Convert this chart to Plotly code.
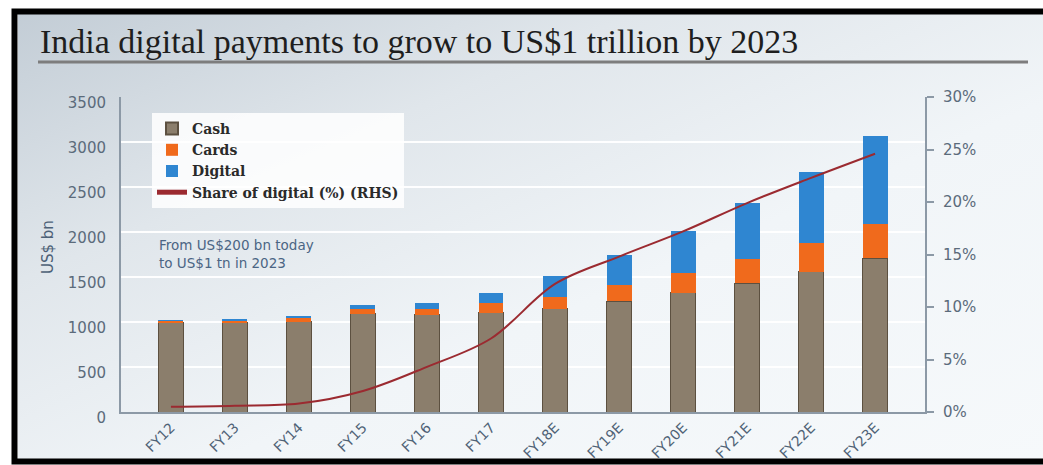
import base64
import plotly.graph_objects as go

categories = ["FY12", "FY13", "FY14", "FY15", "FY16", "FY17",
              "FY18E", "FY19E", "FY20E", "FY21E", "FY22E", "FY23E"]
cash = [990, 990, 1005, 1090, 1080, 1105, 1145, 1233, 1326, 1430, 1560, 1707]
cards = [25, 30, 42, 52, 63, 103, 138, 178, 215, 266, 315, 378]
digital = [5, 12, 20, 44, 70, 118, 232, 333, 470, 623, 788, 985]
share_digital = [0.5, 0.6, 0.8, 2.0, 4.3, 7.0, 12.2, 14.8, 17.2, 19.9, 22.3, 24.6]

left_ticks = [0, 500, 1000, 1500, 2000, 2500, 3000, 3500]
right_ticks = [0, 5, 10, 15, 20, 25, 30]
right_tick_text = ["0%", "5%", "10%", "15%", "20%", "25%", "30%"]

W, H = 1043, 465
ML, MR, MT, MB = 121, 118, 97, 53
PW, PH = W - ML - MR, H - MT - MB


def xp(px):
    return (px - ML) / PW


def yp(py):
    return (H - MB - py) / PH


svg = (
    '<svg xmlns="http://www.w3.org/2000/svg" width="1025" height="445" preserveAspectRatio="none">'
    '<defs><linearGradient id="g" x1="0" y1="0" x2="1" y2="1">'
    '<stop offset="0" stop-color="#c3cdd6"/>'
    '<stop offset="0.3" stop-color="#e0e6eb"/>'
    '<stop offset="0.6" stop-color="#f1f5f8"/>'
    '<stop offset="1" stop-color="#f6f9fb"/>'
    '</linearGradient></defs>'
    '<rect x="0" y="0" width="1025" height="445" fill="url(#g)"/></svg>'
)
src = "data:image/svg+xml;base64," + base64.b64encode(svg.encode()).decode()

fig = go.Figure()
fig.add_trace(go.Bar(
    x=categories, y=cash, name="Cash", width=0.39,
    marker=dict(color="#8b7e6c", line=dict(color="#5c5040", width=1)),
))
fig.add_trace(go.Bar(
    x=categories, y=cards, name="Cards", width=0.39,
    marker=dict(color="#f06a1c", line=dict(color="#f06a1c", width=0)),
))
fig.add_trace(go.Bar(
    x=categories, y=digital, name="Digital", width=0.39,
    marker=dict(color="#2f86d1", line=dict(color="#2f86d1", width=0)),
))
fig.add_trace(go.Scatter(
    x=categories, y=share_digital, name="Share of digital (%) (RHS)",
    mode="lines", line=dict(color="#9b2a30", width=2, shape="spline"),
    yaxis="y2",
))

tick_font = dict(family="DejaVu Sans, Arial, sans-serif", size=15, color="#5b6b7b")
x_tick_font = dict(family="DejaVu Sans, Arial, sans-serif", size=14, color="#4f6276")

fig.update_layout(
    width=W, height=H,
    margin=dict(l=ML, r=MR, t=MT, b=MB, pad=0, autoexpand=False),
    barmode="stack",
    paper_bgcolor="white",
    plot_bgcolor="rgba(0,0,0,0)",
    showlegend=True,
    legend=dict(
        x=xp(152), y=yp(113), xanchor="left", yanchor="top",
        bgcolor="rgba(255,255,255,0.85)", borderwidth=0,
        traceorder="normal",
        font=dict(family="DejaVu Serif, Georgia, serif", size=14, color="#2a2a2a", weight="bold"),
        itemsizing="constant",
    ),
    xaxis=dict(
        type="category", range=[-0.78, 11.78], automargin=False,
        tickangle=-45, tickfont=x_tick_font,
        showline=True, linecolor="#8c99a6", linewidth=2,
        showgrid=False, ticks="", zeroline=False,
    ),
    yaxis=dict(
        range=[0, 3500], tickmode="array", tickvals=left_ticks, automargin=False,
        tickfont=tick_font, showline=True, linecolor="#8c99a6", linewidth=2,
        showgrid=True, gridcolor="rgba(255,255,255,0.95)", gridwidth=1.5,
        zeroline=False, ticks="", ticklabelstandoff=10, ticklabelshift=6,
    ),
    yaxis2=dict(
        overlaying="y", side="right", range=[0, 30], automargin=False,
        tickmode="array", tickvals=right_ticks, ticktext=right_tick_text,
        tickfont=tick_font,
        showline=True, linecolor="#8c99a6", linewidth=2,
        ticks="outside", ticklen=7, tickcolor="#8c99a6", tickwidth=1.5,
        showgrid=False, zeroline=False, ticklabelstandoff=6,
    ),
    images=[dict(
        source=src, xref="paper", yref="paper",
        x=xp(18), y=yp(14), sizex=(W - 18) / PW, sizey=(459 - 14) / PH,
        xanchor="left", yanchor="top", sizing="stretch", layer="below",
    )],
    shapes=[
        dict(type="rect", xref="paper", yref="paper",
             x0=xp(14.5), x1=xp(1060), y0=yp(11.5), y1=yp(461.5),
             line=dict(color="black", width=6), fillcolor="rgba(0,0,0,0)",
             layer="above"),
        dict(type="line", xref="paper", yref="paper",
             x0=xp(38), x1=xp(1028), y0=yp(62), y1=yp(62),
             line=dict(color="#7d7d7d", width=3)),
    ],
    annotations=[
        dict(text="India digital payments to grow to US$1 trillion by 2023",
             xref="paper", yref="paper", x=xp(38), y=yp(42),
             xanchor="left", yanchor="middle", showarrow=False,
             font=dict(family="Liberation Serif, Times New Roman, serif", size=34, color="#1e1e1e")),
        dict(text="US$ bn", xref="paper", yref="paper", x=xp(48), y=yp(247),
             xanchor="center", yanchor="middle", textangle=-90, showarrow=False,
             font=dict(family="DejaVu Sans, Arial, sans-serif", size=15, color="#4d6177")),
        dict(text="From US$200 bn today<br>to US$1 tn in 2023",
             xref="paper", yref="paper", x=xp(157), y=yp(254),
             xanchor="left", yanchor="middle", align="left", showarrow=False,
             font=dict(family="DejaVu Sans, Arial, sans-serif", size=13.5, color="#4b6584")),
    ],
)

fig.write_html("out.html")
